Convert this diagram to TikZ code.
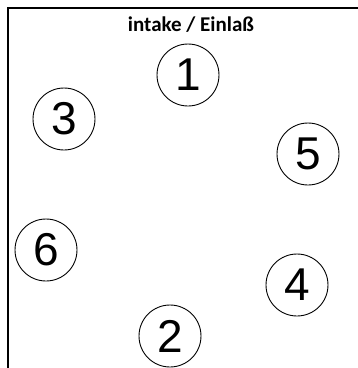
\documentclass[tikz,border=0pt]{standalone}
\usepackage{fontspec}
\setmainfont{Liberation Sans}
\newfontfamily\titlefont{Carlito}
\usepackage{tikz}
\usetikzlibrary{positioning}

\begin{document}
\begin{tikzpicture}[x=1pt, y=-1pt]
            \tikzstyle{cyl} = [circle, draw, line width=0.9pt, minimum size=62pt,
                inner sep=0pt, font=\fontsize{46}{46}\selectfont]
            \tikzstyle{wall} = [draw, line width=1.6pt]

            \useasboundingbox (0,0) rectangle (358,368);
            \coordinate (corner) at (8,8);
            \coordinate (topend) at (358,8);
            \coordinate (leftend) at (8,368);
            \path [wall] (topend) -- (corner) -- (leftend);

            \node [font=\titlefont\bfseries\fontsize{21}{21}\selectfont] (intake) at (191,25) {intake / Einlaß};

            \node [cyl] (c1) at (188,75) {1};
            \node [cyl] (c3) at (64,119) {3};
            \node [cyl] (c5) at (308,154) {5};
            \node [cyl] (c6) at (46,250) {6};
            \node [cyl] (c4) at (297,285) {4};
            \node [cyl] (c2) at (170,336) {2};
        \end{tikzpicture}
\end{document}
